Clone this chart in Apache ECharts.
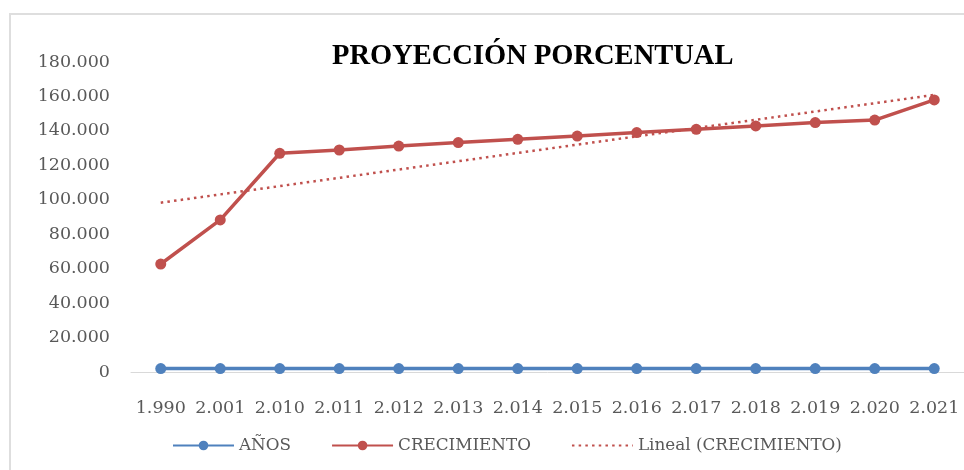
<!DOCTYPE html>
<html>
<head>
<meta charset="utf-8">
<script src="https://cdn.jsdelivr.net/npm/echarts@6/dist/echarts.min.js"></script>
<style>
  html, body { margin: 0; padding: 0; background: #fff; }
  #frame {
    position: absolute; left: 9px; top: 13px; width: 980px; height: 480px;
    border-top: 2px solid #dedede; border-left: 2px solid #dedede;
  }
  #chart { position: absolute; left: 0; top: 0; width: 964px; height: 470px; }
</style>
</head>
<body>
<div id="frame"></div>
<div id="chart"></div>
<script>
// categorias (años con separador de miles)
const categories = ['1.990', '2.001', '2.010', '2.011', '2.012', '2.013', '2.014',
  '2.015', '2.016', '2.017', '2.018', '2.019', '2.020', '2.021']
// serie AÑOS
const anos = [1990, 2001, 2010, 2011, 2012, 2013, 2014, 2015, 2016, 2017, 2018, 2019, 2020, 2021]
// serie CRECIMIENTO
const crecimiento = [62700, 88300, 127000, 128900, 131200, 133200, 135100,
  137000, 139000, 140900, 142900, 144800, 146300, 158000]
// línea de tendencia: extremos
const tendencia = [98300, null, null, null, null, null, null,
  null, null, null, null, null, null, 160900]

const serif = 'DejaVu Serif'
const gray = '#595959'

// formato 180000 -> 180.000
const fmt = (v) => String(v).replace(/\B(?=(\d{3})+(?!\d))/g, '.')

const chart = echarts.init(document.getElementById('chart'))
chart.setOption({
  animation: false,
  textStyle: { fontFamily: serif },
  title: {
    text: 'PROYECCIÓN PORCENTUAL',
    left: 332,
    top: 42,
    padding: 0,
    textStyle: {
      fontFamily: 'Liberation Serif',
      fontWeight: 'bold',
      fontSize: 28.5,
      color: '#000'
    }
  },
  legend: {
    left: 167,
    top: 432,
    itemWidth: 61,
    itemHeight: 12,
    itemGap: 40,
    textStyle: { fontFamily: serif, fontSize: 16.8, color: gray },
    data: [
      'AÑOS',
      'CRECIMIENTO',
      // la tendencia se muestra solo como línea punteada
      { name: 'Lineal (CRECIMIENTO)', itemStyle: { opacity: 0 } }
    ]
  },
  grid: {
    left: 131,
    top: 62,
    width: 837,
    bottom: 98
  },
  xAxis: {
    type: 'category',
    data: categories,
    boundaryGap: true,
    axisLine: { lineStyle: { color: '#d9d9d9', width: 1 } },
    axisTick: { show: false },
    axisLabel: { fontFamily: serif, fontSize: 17.5, color: gray, margin: 27, interval: 0 }
  },
  yAxis: {
    type: 'value',
    min: 0,
    max: 180000,
    interval: 20000,
    axisLine: { show: false },
    axisTick: { show: false },
    splitLine: { show: false },
    axisLabel: { fontFamily: serif, fontSize: 17.5, color: gray, margin: 21, formatter: fmt }
  },
  series: [
    {
      name: 'AÑOS',
      type: 'line',
      data: anos,
      symbol: 'circle',
      symbolSize: 11,
      itemStyle: { color: '#4f81bd' },
      lineStyle: { color: '#4f81bd', width: 3.5 }
    },
    {
      name: 'CRECIMIENTO',
      type: 'line',
      data: crecimiento,
      symbol: 'circle',
      symbolSize: 11,
      itemStyle: { color: '#c0504d' },
      lineStyle: { color: '#c0504d', width: 3.5 }
    },
    {
      name: 'Lineal (CRECIMIENTO)',
      type: 'line',
      data: tendencia,
      connectNulls: true,
      symbol: 'none',
      itemStyle: { color: '#c0504d' },
      lineStyle: { color: '#c0504d', width: 2.5, type: [2.5, 4.2] }
    }
  ]
})
</script>
</body>
</html>
